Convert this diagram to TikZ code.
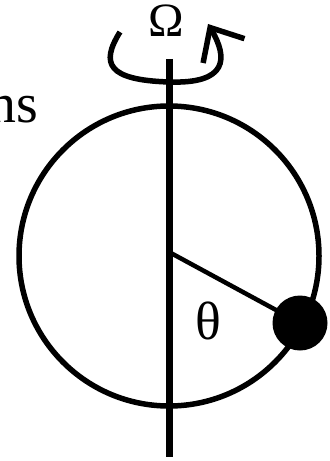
\documentclass[tikz,border=0pt]{standalone}
\usepackage{fontspec}
\setmainfont{Liberation Serif}
\usetikzlibrary{arrows.meta}

\begin{document}
\begin{tikzpicture}[x=1bp,y=-1bp,
  axisline/.style={line width=7bp},
  rimline/.style={line width=5.5bp},
  armline/.style={line width=4.5bp},
  spinarrow/.style={line width=5.5bp,-{Straight Barb[length=27bp,width=48bp]}},
  bigtext/.style={inner sep=0pt,font=\fontsize{#1}{#1}\selectfont}]
  \useasboundingbox (0,0) rectangle (329,461);

  % rotation axis
  \coordinate (axtop) at (169,59);
  \coordinate (axbot) at (169,457);
  \draw[axisline] (axtop) -- (axbot);

  % hoop
  \coordinate (ctr) at (169,256);
  \draw[rimline] (ctr) circle[radius=150];

  % bead on the hoop
  \node[circle,fill=black,minimum size=55bp,inner sep=0pt] (bead) at (300,323) {};
  \draw[armline] (169,252) -- (bead.center);

  % spin arrow and labels
  \draw[spinarrow] (120,32) .. controls (100,64) and (108,80) .. (169,82)
    .. controls (228,84) and (228,58) .. (208,24);
  \node[bigtext=48,anchor=base] (omega) at (166,37) {Ω};
  \node[bigtext=54] (theta) at (208,321) {θ};
  \node[bigtext=56,anchor=base east] (word) at (38,123) {ns};
\end{tikzpicture}
\end{document}
